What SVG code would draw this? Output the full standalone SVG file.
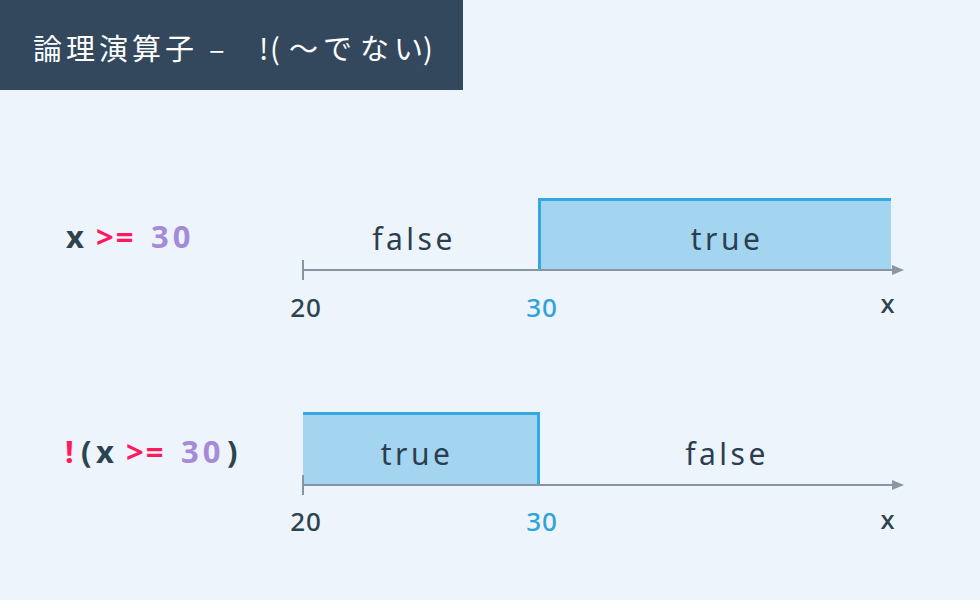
<svg xmlns="http://www.w3.org/2000/svg" width="980" height="600" viewBox="0 0 980 600">
<defs>
<marker id="arr" markerWidth="12" markerHeight="12" refX="10" refY="5" orient="auto" markerUnits="userSpaceOnUse" viewBox="0 0 12 10">
<path d="M0,0 L12,5 L0,10 Z" fill="#8a96a3"/>
</marker>
<style>
.t{font-family:"Noto Sans","Open Sans","DejaVu Sans",sans-serif}
.jp{font-family:"Noto Sans CJK JP","Noto Sans",sans-serif;font-size:29px;fill:#ffffff}
.lab{font-size:30px;fill:#2c3e50;letter-spacing:3.5px;text-anchor:middle}
.num{font-size:26px;font-weight:500;text-anchor:middle;letter-spacing:1px}
.expr{font-size:31px;font-weight:bold}
.ax{stroke:#8795a2;stroke-width:2;fill:none}
.box{fill:#a3d5f0}
.edge{stroke:#34a8e0;stroke-width:3;fill:none}
</style>
</defs>
<rect width="980" height="600" fill="#eef4fb"/>
<g id="title">
<rect x="0" y="0" width="463" height="90" fill="#33485d"/>
<text y="60" class="jp"><tspan x="33" letter-spacing="4">論理演算子</tspan><tspan x="209">–</tspan><tspan x="259">!</tspan><tspan x="270">(</tspan><tspan x="289">〜</tspan><tspan x="323">で</tspan><tspan x="360">な</tspan><tspan x="394">い</tspan><tspan x="423">)</tspan></text>
</g>
<g id="expr1">
<text y="248" class="t expr"><tspan x="66" fill="#2c4350">x</tspan><tspan x="96" fill="#ff1a5e" letter-spacing="2">&gt;=</tspan><tspan x="151" fill="#a58bd6" letter-spacing="4">30</tspan></text>
</g>
<g id="expr2">
<text y="463" class="t expr"><tspan x="65" fill="#ff1a5e">!</tspan><tspan x="81" fill="#2c4350">(</tspan><tspan x="96" fill="#2c4350">x</tspan><tspan x="126" fill="#ff1a5e" letter-spacing="2">&gt;=</tspan><tspan x="181" fill="#a58bd6" letter-spacing="4">30</tspan><tspan x="227" fill="#2c4350">)</tspan></text>
</g>
<g id="row1">
<rect x="538" y="199" width="353" height="71" class="box"/>
<path d="M539.5,270 V199.5 H891" class="edge"/>
<text x="414" y="250" class="t lab">false</text>
<text x="727" y="250" class="t lab">true</text>
<text x="306" y="317" class="t num" fill="#2c4350">20</text>
<text x="542" y="317" class="t num" fill="#2ea3dc">30</text>
<text x="888" y="313" class="t num" fill="#2c4350">x</text>
</g>
<g id="row2">
<rect x="303" y="413" width="236" height="72" class="box"/>
<path d="M303,413.5 H538.5 V485" class="edge"/>
<text x="417" y="465" class="t lab">true</text>
<text x="727" y="465" class="t lab">false</text>
<text x="306" y="531" class="t num" fill="#2c4350">20</text>
<text x="542" y="531" class="t num" fill="#2ea3dc">30</text>
<text x="888" y="529" class="t num" fill="#2c4350">x</text>
</g>
<g id="connectors">
<line x1="302" y1="270" x2="902" y2="270" class="ax" marker-end="url(#arr)"/>
<line x1="303" y1="260" x2="303" y2="280" class="ax"/>
<line x1="302" y1="485" x2="902" y2="485" class="ax" marker-end="url(#arr)"/>
<line x1="303" y1="475" x2="303" y2="495" class="ax"/>
</g>
</svg>
